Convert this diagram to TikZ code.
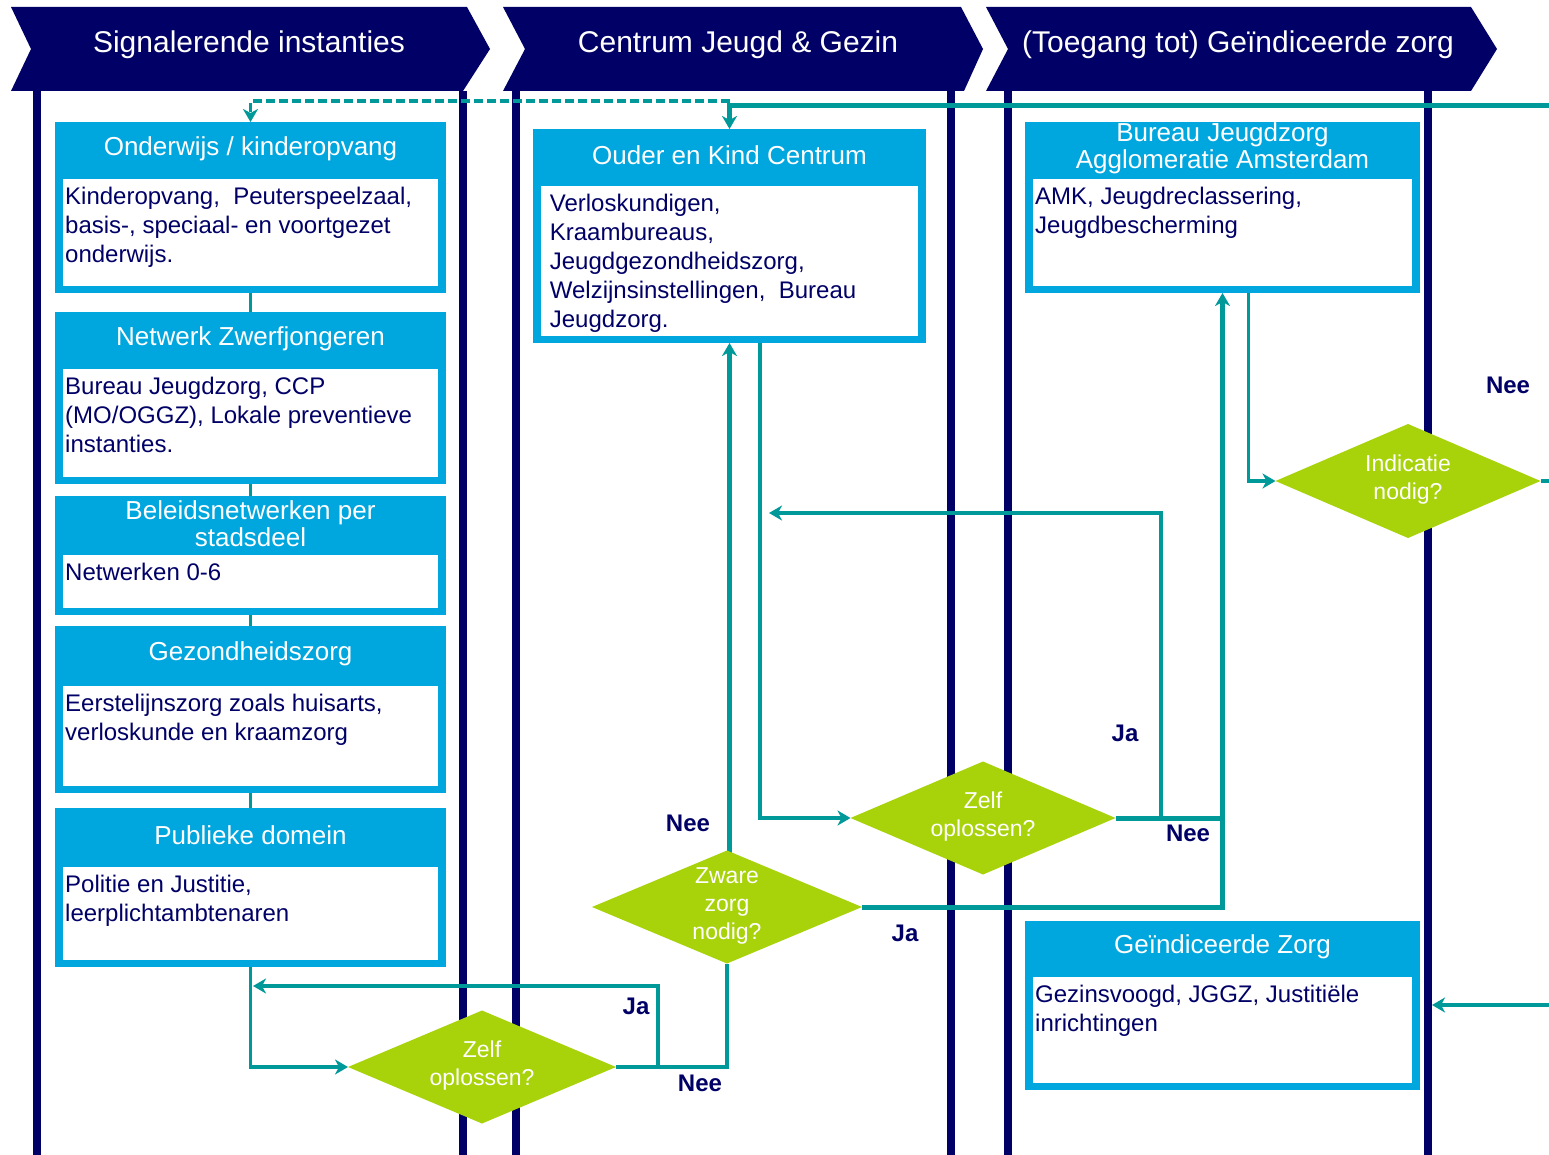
\documentclass[tikz,border=0pt]{standalone}
\usepackage{fontspec}
\setmainfont{Liberation Sans}
\usetikzlibrary{shapes.geometric,arrows.meta,backgrounds}
\definecolor{navy}{RGB}{0,0,102}
\definecolor{tealc}{RGB}{0,153,153}
\definecolor{boxblue}{RGB}{0,166,222}
\definecolor{diagreen}{RGB}{168,210,10}
\newcommand\dtext[1]{\smash{\raisebox{-5pt}{\makebox[0pt]{\begin{tabular}{@{}c@{}}#1\end{tabular}}}}}
\newcommand\cbox[8]{%
  \node[boxouter, minimum width={(#4-#2)*1pt}, minimum height={(#5-#3)*1pt}, anchor=north west] (#1) at (#2,#3) {};
  \fill[white] (#2+8,#6) rectangle (#4-8,#5-7);
  \node[boxtitle] (#1-title) at ({(#2+#4)/2},{(#3+#6)/2-2}) {#7};
  \node[boxbody] (#1-body) at (#2+8,#6) {#8};
}
\tikzset{
  boxouter/.style={rectangle, fill=boxblue, inner sep=0pt, outer sep=0pt},
  boxtitle/.style={text=white, font=\fontsize{26}{27}\selectfont, align=center, inner sep=0pt},
  boxbody/.style={anchor=north west, text=navy, font=\fontsize{24}{29}\selectfont, align=left, inner xsep=2pt, inner ysep=8pt},
  hdrtext/.style={text=white, font=\fontsize{30}{34}\selectfont, inner sep=0pt},
  dia/.style={diamond, fill=diagreen, inner sep=0pt, outer sep=0pt, minimum width=268pt, minimum height=113pt, text=white, font=\fontsize{23}{28}\selectfont},
  lane/.style={draw=navy, line width=8pt},
  con/.style={draw=tealc, line width=3.2pt},
  conthick/.style={draw=tealc, line width=5pt},
  arr/.style={-{Stealth[length=13pt,width=15pt,inset=4pt]}},
  lbl/.style={text=navy, font=\bfseries\fontsize{24}{28}\selectfont, inner sep=0pt}
}
\begin{document}
\begin{tikzpicture}[x=1pt,y=-1pt]
\useasboundingbox (0,0) rectangle (1549,1155);
% headers
\fill[navy] (11,7) -- (467,7) -- (490,49) -- (463,91) -- (11,91) -- (31,49) -- cycle;
\fill[navy] (503,7) -- (961,7) -- (983,49) -- (964,91) -- (503,91) -- (525,49) -- cycle;
\fill[navy] (986,7) -- (1471,7) -- (1497,49) -- (1471,91) -- (986,91) -- (1008,49) -- cycle;
\node[hdrtext] (h1) at (249,45) {Signalerende instanties};
\node[hdrtext] (h2) at (738,45) {Centrum Jeugd \& Gezin};
\node[hdrtext] (h3) at (1238,45) {(Toegang tot) Geïndiceerde zorg};
% boxes
\cbox{b1}{55}{122}{446}{293}{179}{Onderwijs / kinderopvang}{Kinderopvang,\ \ Peuterspeelzaal,\\basis-, speciaal- en voortgezet\\onderwijs.}
\cbox{b2}{55}{312}{446}{484}{369}{Netwerk Zwerfjongeren}{Bureau Jeugdzorg, CCP\\(MO/OGGZ), Lokale preventieve\\instanties.}
\cbox{b3}{55}{496}{446}{615}{555}{Beleidsnetwerken per\\stadsdeel}{Netwerken 0-6}
\cbox{b4}{55}{626}{446}{793}{686}{Gezondheidszorg}{Eerstelijnszorg zoals huisarts,\\verloskunde en kraamzorg}
\cbox{b5}{55}{808}{446}{967}{867}{Publieke domein}{Politie en Justitie,\\leerplichtambtenaren}
\cbox{okc}{533}{129}{926}{343}{186}{Ouder en Kind Centrum}{\ Verloskundigen,\\\ Kraambureaus,\\\ Jeugdgezondheidszorg,\\\ Welzijnsinstellingen,\ \ Bureau\\\ Jeugdzorg.}
\cbox{bj}{1025}{122}{1420}{293}{179}{Bureau Jeugdzorg\\Agglomeratie Amsterdam}{AMK, Jeugdreclassering,\\Jeugdbescherming}
\cbox{gz}{1025}{921}{1420}{1090}{977}{Geïndiceerde Zorg}{Gezinsvoogd, JGGZ, Justitiële\\inrichtingen}
% diamonds
\node[dia] (zelf1) at (482,1067) {\dtext{Zelf\\oplossen?}};
\node[dia, minimum width=270pt] (zware) at (727,907) {\dtext{Zware\\zorg\\nodig?}};
\node[dia, minimum width=265pt] (zelf2) at (983,818) {\dtext{Zelf\\oplossen?}};
\node[dia, minimum width=265pt, minimum height=114pt] (ind) at (1408,481) {\dtext{Indicatie\\nodig?}};
% labels
\node[lbl] (l1) at (1508,385) {Nee};
\node[lbl] (l2) at (688,823) {Nee};
\node[lbl] (l3) at (1125,733) {Ja};
\node[lbl] (l4) at (1188,833) {Nee};
\node[lbl] (l5) at (905,933) {Ja};
\node[lbl] (l6) at (636,1006) {Ja};
\node[lbl] (l7) at (700,1083) {Nee};
% coordinates
\coordinate (rtop) at (1549,106);
\coordinate (dstart) at (729.5,101);
\coordinate (ja1s) at (658,1067);
\coordinate (ja1e) at (253,986);
\coordinate (ja2s) at (1161,818);
\coordinate (ja2e) at (769,513);
\coordinate (redge) at (1549,481);
\coordinate (rgz) at (1549,1005);
\coordinate (gzin) at (1432,1005);
\begin{pgfonlayer}{background}
\fill[white] (0,0) rectangle (1549,1155);
\foreach \x in {37,463,516,951,1008,1428} \draw[lane] (\x,91) -- (\x,1155);
% connectors
\draw[conthick,arr] (rtop) -- (rtop -| okc.north) -- (okc.north);
\draw[con,dash pattern=on 9pt off 4pt,arr] (dstart) -- (dstart -| b1.north) -- (b1.north);
\draw[con] (b1.south) -- (b2.north);
\draw[con] (b2.south) -- (b3.north);
\draw[con] (b3.south) -- (b4.north);
\draw[con] (b4.south) -- (b5.north);
\draw[con,arr] (b5.south) |- (zelf1.west);
\draw[con] (zelf1.east) -| (zware.south);
\draw[con,arr] (ja1s) |- (ja1e);
\draw[conthick,arr] (zware.center -| okc.south) -- (okc.south);
\draw[conthick,arr] (zware.east) -| (bj.south);
\draw[con,arr] ([xshift=30.5pt]okc.south) |- (zelf2.west);
\draw[conthick] (zelf2.east) -- (zelf2.east -| bj.south);
\draw[con,arr] (ja2s) |- (ja2e);
\draw[con,arr] ([xshift=26pt]bj.south) |- (ind.west);
\draw[con] (ind.east) -- (redge);
\draw[con,arr] (rgz) -- (gzin);
\end{pgfonlayer}
\end{tikzpicture}
\end{document}
